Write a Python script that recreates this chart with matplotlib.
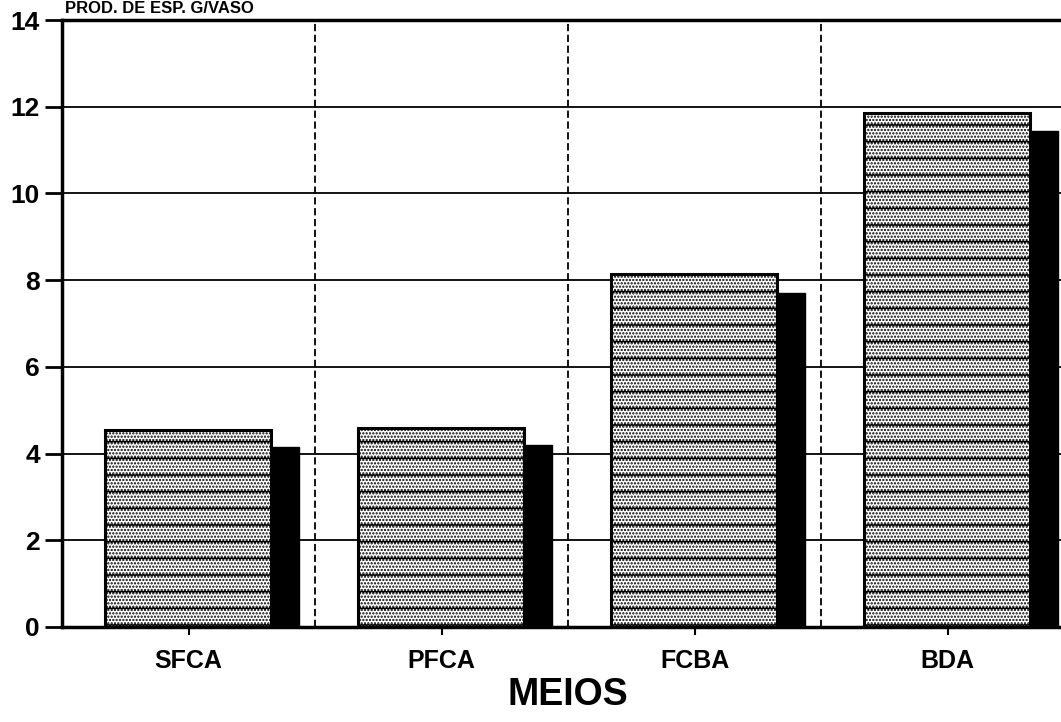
import matplotlib
matplotlib.use("Agg")
import matplotlib.pyplot as plt
import numpy as np

categories = ["SFCA", "PFCA", "FCBA", "BDA"]
series_a = [4.55, 4.6, 8.15, 11.85]
series_b = [4.15, 4.2, 7.7, 11.45]
yticks = [0, 2, 4, 6, 8, 10, 12, 14]
title = "PROD. DE ESP. G/VASO"
xlabel = "MEIOS"

plt.rcParams['font.family'] = ['Liberation Sans', 'DejaVu Sans']
plt.rcParams['hatch.linewidth'] = 1.1

fig = plt.figure(figsize=(10.61, 7.22), dpi=100)
ax = fig.add_axes([62/1061, 95/722, 1012/1061, 607/722])

x = np.arange(len(categories))
wa = 0.66
wb = 0.11
ax.bar(x - 0.332, series_a, width=wa, align='edge', facecolor='white',
       edgecolor='black', hatch='-.....', linewidth=2.2, zorder=3)
ax.bar(x + 0.328, series_b, width=wb, align='edge', facecolor='black',
       edgecolor='black', linewidth=1, zorder=2)

ax.set_xlim(-0.5, 3.5)
ax.set_ylim(0, 14)
ax.set_yticks(yticks)
ax.set_yticklabels([str(v) for v in yticks], fontsize=19, fontweight='bold')
ax.set_xticks(x)
ax.set_xticklabels(categories, fontsize=18, fontweight='bold')
ax.tick_params(axis='y', direction='out', length=12, width=2, pad=4)
ax.tick_params(axis='x', direction='out', length=6, width=1.5, pad=10)

for v in yticks[1:-1]:
    ax.axhline(v, color='black', linewidth=1.3, zorder=1)
for b in [0.5, 1.5, 2.5]:
    ax.axvline(b, color='black', linewidth=1.3, linestyle=(0, (4, 2)), zorder=1)

for s in ['left', 'bottom', 'top']:
    ax.spines[s].set_linewidth(2.5)
ax.spines['right'].set_visible(False)

ax.set_xlabel(xlabel, fontsize=27, fontweight='bold', labelpad=3)
fig.text(65/1061, 1 - 1/722, title, fontsize=12, fontweight='bold',
         ha='left', va='top')

fig.savefig("out.png", dpi=100)
